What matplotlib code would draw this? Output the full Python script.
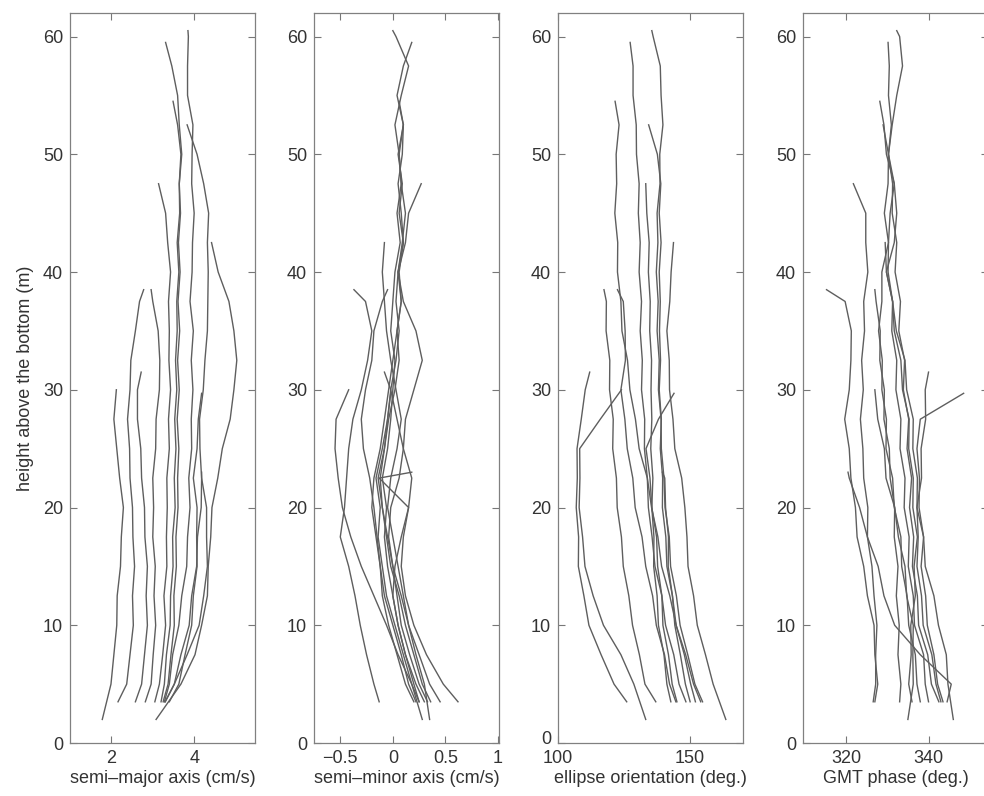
import matplotlib
matplotlib.use("Agg")
import matplotlib.pyplot as plt
import matplotlib.transforms as mtransforms

plt.rcParams['font.family'] = ['Liberation Sans', 'DejaVu Sans']

# sample heights (m) shared by all profiles; each profile also has its own bottom / top bin
GRID = [5, 7.5, 10, 12.5, 15, 17.5, 20, 22.5, 25, 27.5, 30, 32.5, 35, 37.5, 40,
        42.5, 45, 47.5, 50, 52.5, 55, 57.5, 60]
BOTTOM = [3.5, 3.5, 3.5, 3.5, 3.5, 2.0, 3.5, 3.5, 3.5, 2.0, 3.5, 3.5]
TOP = [60.5, 59.5, 54.5, 52.5, 47.5, 42.5, 38.5, 38.5, 31.5, 30.0, 29.7, 23.0]

# semi-major axis (cm/s), one list per profile, bottom -> top
semi_major = [
    [3.28, 3.4, 3.48, 3.63, 3.7, 3.82, 3.84, 3.9, 3.87, 3.94, 3.93, 3.97, 3.93, 3.98, 3.9, 3.95, 3.96, 4.0, 3.94, 3.95, 3.97, 3.84, 3.84, 3.86, 3.85],
    [3.2, 3.28, 3.33, 3.42, 3.43, 3.49, 3.48, 3.54, 3.52, 3.56, 3.53, 3.58, 3.55, 3.59, 3.58, 3.63, 3.59, 3.65, 3.64, 3.7, 3.64, 3.6, 3.46, 3.31],
    [3.25, 3.37, 3.44, 3.52, 3.51, 3.57, 3.56, 3.61, 3.6, 3.63, 3.59, 3.64, 3.6, 3.65, 3.61, 3.66, 3.62, 3.67, 3.64, 3.68, 3.6, 3.49],
    [3.3, 3.52, 3.83, 4.12, 4.23, 4.32, 4.3, 4.3, 4.18, 4.14, 4.13, 4.22, 4.26, 4.32, 4.33, 4.34, 4.32, 4.35, 4.23, 4.07, 3.83],
    [3.05, 3.16, 3.24, 3.31, 3.27, 3.34, 3.33, 3.35, 3.34, 3.4, 3.38, 3.43, 3.39, 3.4, 3.38, 3.43, 3.36, 3.31, 3.14],
    [3.08, 3.68, 4.02, 4.18, 4.32, 4.34, 4.4, 4.43, 4.57, 4.68, 4.87, 4.96, 5.03, 4.96, 4.84, 4.58, 4.42],
    [2.16, 2.37, 2.45, 2.53, 2.51, 2.56, 2.52, 2.51, 2.45, 2.44, 2.39, 2.45, 2.47, 2.58, 2.68, 2.78],
    [2.82, 2.96, 3.01, 3.07, 3.03, 3.06, 3.0, 3.02, 3.0, 3.07, 3.08, 3.16, 3.17, 3.13, 3.0, 2.96],
    [2.58, 2.73, 2.8, 2.87, 2.84, 2.87, 2.81, 2.8, 2.73, 2.71, 2.63, 2.63, 2.72],
    [1.78, 1.99, 2.06, 2.13, 2.14, 2.22, 2.24, 2.29, 2.2, 2.13, 2.06, 2.12],
    [3.4, 3.63, 3.78, 3.94, 3.98, 4.07, 4.06, 4.07, 3.98, 4.07, 4.1, 4.18],
    [3.3, 3.52, 3.68, 3.88, 3.94, 4.06, 4.08, 4.17, 4.18, 4.18],
]

# semi-minor axis (cm/s)
semi_minor = [
    [0.3, 0.22, 0.12, 0.05, 0.0, -0.05, -0.08, -0.06, -0.1, -0.05, -0.02, 0.0, 0.02, -0.02, 0.0, 0.02, 0.07, 0.04, 0.08, 0.06, 0.02, 0.08, 0.15, 0.03, 0.0],
    [0.36, 0.28, 0.2, 0.12, 0.06, -0.02, -0.06, -0.1, -0.14, -0.08, -0.04, 0.02, 0.06, 0.04, 0.08, 0.06, 0.1, 0.06, 0.09, 0.05, 0.1, 0.04, 0.1, 0.18],
    [0.25, 0.18, 0.1, 0.02, -0.06, -0.1, -0.14, -0.12, -0.16, -0.1, -0.05, -0.02, 0.03, 0.06, 0.03, 0.05, 0.1, 0.08, 0.05, 0.09, 0.1, 0.06],
    [0.2, 0.12, 0.04, -0.04, -0.1, -0.12, -0.16, -0.2, -0.18, -0.12, -0.08, -0.04, 0.0, 0.04, 0.08, 0.05, 0.09, 0.12, 0.08, 0.06, 0.1],
    [0.33, 0.25, 0.16, 0.08, 0.04, 0.0, -0.04, -0.02, 0.06, 0.1, 0.12, 0.2, 0.28, 0.22, 0.1, 0.05, 0.12, 0.15, 0.27],
    [0.35, 0.3, 0.22, 0.15, 0.1, 0.05, 0.0, -0.05, -0.02, 0.04, 0.08, 0.03, -0.02, -0.06, -0.08, -0.1, -0.08],
    [-0.13, -0.18, -0.25, -0.31, -0.36, -0.42, -0.5, -0.46, -0.44, -0.42, -0.38, -0.3, -0.24, -0.2, -0.26, -0.37],
    [0.22, 0.15, 0.08, 0.0, -0.08, -0.12, -0.15, -0.18, -0.22, -0.28, -0.3, -0.26, -0.2, -0.18, -0.1, -0.05],
    [0.62, 0.48, 0.32, 0.2, 0.12, 0.08, 0.1, 0.15, 0.18, 0.1, 0.04, -0.02, -0.08],
    [0.28, 0.18, 0.05, -0.06, -0.18, -0.3, -0.4, -0.48, -0.52, -0.55, -0.54, -0.42],
    [0.45, 0.35, 0.25, 0.15, 0.08, 0.0, -0.05, -0.1, -0.12, -0.08, -0.05, -0.02],
    [0.25, 0.2, 0.12, 0.05, 0.0, 0.02, 0.08, 0.15, -0.13, 0.18],
]

# ellipse orientation (deg.)
orientation = [
    [154.7, 151.8, 149.1, 146.2, 144.8, 142.6, 142.1, 140.5, 140.1, 139.1, 139.0, 138.0, 138.3, 137.5, 137.9, 137.2, 137.8, 137.5, 138.6, 138.5, 139.7, 139.0, 138.7, 136.0, 135.5],
    [148.4, 145.8, 143.8, 140.7, 139.3, 136.7, 135.6, 134.2, 133.8, 132.7, 132.8, 131.6, 131.9, 131.1, 131.6, 130.7, 131.1, 130.4, 130.7, 129.7, 129.6, 128.4, 128.4, 127.3],
    [154.0, 151.3, 148.3, 144.7, 142.3, 139.2, 137.8, 135.4, 133.8, 130.7, 129.3, 127.2, 126.3, 124.2, 123.8, 122.5, 122.6, 121.5, 122.2, 122.0, 123.1, 121.6],
    [152.0, 150.2, 147.8, 144.7, 143.3, 141.2, 140.8, 139.5, 139.6, 138.7, 139.1, 138.3, 138.8, 138.4, 138.7, 138.3, 139.0, 138.3, 138.9, 137.6, 134.3],
    [142.7, 141.2, 140.1, 138.0, 137.5, 136.2, 136.3, 135.5, 135.9, 135.1, 135.5, 135.2, 135.4, 134.7, 134.9, 134.2, 134.5, 133.6, 133.2],
    [163.5, 158.7, 155.8, 152.7, 151.3, 149.2, 148.8, 148.0, 146.8, 144.2, 143.5, 142.2, 142.1, 141.2, 142.3, 142.8, 143.7],
    [137.0, 132.9, 130.8, 128.2, 126.8, 124.7, 124.0, 122.4, 122.1, 120.7, 120.9, 119.5, 119.6, 118.2, 118.3, 117.4],
    [144.6, 142.2, 140.3, 137.2, 135.8, 133.2, 131.8, 129.2, 128.3, 126.2, 125.3, 123.8, 125.5, 125.4, 124.7, 122.5],
    [126.0, 121.2, 116.3, 111.7, 109.8, 107.7, 107.8, 106.9, 107.3, 107.2, 108.8, 110.3, 112.0],
    [133.2, 128.7, 123.8, 117.2, 113.3, 110.2, 109.3, 108.0, 108.3, 108.2, 116.0, 124.0],
    [145.0, 143.2, 141.8, 139.7, 139.3, 137.7, 137.3, 135.5, 134.8, 133.3, 138.0, 143.9],
    [150.0, 148.2, 146.3, 144.2, 143.3, 141.7, 141.8, 140.7, 140.4, 139.5],
]

# GMT phase (deg.)
phase = [
    [342.5, 340.7, 339.8, 337.6, 337.3, 336.1, 336.4, 335.4, 335.9, 334.8, 335.2, 333.9, 334.2, 332.8, 333.2, 331.9, 332.3, 331.2, 331.3, 330.3, 331.2, 332.3, 333.7, 333.0, 332.3],
    [340.0, 339.2, 338.8, 336.6, 336.3, 335.1, 335.3, 334.1, 334.3, 333.1, 333.3, 332.1, 332.3, 331.1, 331.3, 330.2, 330.3, 329.3, 330.2, 330.3, 331.0, 330.3, 330.5, 330.2],
    [338.0, 337.2, 336.8, 335.2, 334.8, 333.5, 333.3, 331.7, 331.3, 329.7, 329.8, 328.7, 328.8, 327.9, 328.7, 328.7, 330.3, 330.7, 331.7, 329.8, 329.2, 328.2],
    [336.0, 335.2, 335.8, 335.7, 336.8, 336.5, 337.3, 336.2, 336.3, 335.2, 335.3, 333.7, 333.3, 331.7, 331.3, 329.8, 331.7, 332.3, 331.7, 330.3, 329.0],
    [326.6, 327.2, 327.2, 327.5, 326.8, 326.3, 325.2, 325.3, 324.3, 324.1, 323.5, 324.2, 323.8, 324.5, 324.3, 325.3, 324.8, 324.8, 321.8],
    [346.0, 344.7, 344.3, 342.4, 341.3, 339.2, 338.8, 337.2, 337.3, 336.2, 336.3, 334.7, 334.3, 332.2, 331.3, 329.8, 329.5],
    [327.0, 327.7, 327.0, 326.8, 325.2, 324.3, 322.7, 322.3, 321.2, 320.8, 319.7, 320.8, 321.2, 321.3, 319.8, 315.3],
    [333.0, 333.3, 332.6, 332.9, 332.2, 332.6, 331.7, 331.8, 330.7, 330.5, 329.2, 329.3, 328.2, 328.3, 327.3, 327.0],
    [343.0, 341.8, 340.8, 338.7, 338.3, 337.2, 337.5, 337.2, 338.3, 338.2, 339.3, 339.2, 340.0],
    [335.0, 336.3, 336.2, 336.3, 334.7, 334.3, 332.7, 331.8, 329.7, 329.3, 327.7, 327.0],
    [343.5, 342.2, 341.3, 339.7, 339.3, 338.2, 338.8, 337.7, 337.8, 337.2, 338.0, 348.5],
    [344.5, 345.5, 338.0, 331.8, 329.2, 327.8, 325.2, 323.3, 320.8, 320.5],
]

panels = [
    (semi_major, 'semi\u2013major axis (cm/s)', (1.0, 5.47), [2, 4], ['2', '4']),
    (semi_minor, 'semi\u2013minor axis (cm/s)', (-0.75, 1.01), [-0.5, 0, 0.5, 1], ['\u22120.5', '0', '0.5', '1']),
    (orientation, 'ellipse orientation (deg.)', (100, 170), [100, 150], ['100', '150']),
    (phase, 'GMT phase (deg.)', (309.6, 354.4), [320, 340], ['320', '340']),
]


def heights(k):
    return [BOTTOM[k]] + [g for g in GRID if BOTTOM[k] < g < TOP[k]] + [TOP[k]]


W, H = 984, 796
fig = plt.figure(figsize=(W / 100, H / 100), dpi=100)
lefts = [70, 314, 558, 803]

for i, (data, label, xlim, ticks, ticklabels) in enumerate(panels):
    ax = fig.add_axes([lefts[i] / W, 53 / H, 185 / W, 730 / H])
    for k, xs in enumerate(data):
        z = heights(k)
        n = min(len(z), len(xs))
        ax.plot(xs[:n], z[:n], color='#5e5e5e', lw=1.0)
    ax.set_xlim(*xlim)
    ax.set_ylim(0, 62)
    ax.set_xticks(ticks)
    ax.set_xticklabels(ticklabels)
    ax.set_yticks([0, 10, 20, 30, 40, 50, 60])
    ax.tick_params(direction='in', top=True, right=True, length=5, width=0.8,
                   color='#777777', labelcolor='#333333', labelsize=13, pad=5)
    for s in ax.spines.values():
        s.set_color('#808080')
        s.set_linewidth(0.9)
    ax.set_xlabel(label, fontsize=13, color='#333333', labelpad=2)
    if i == 0:
        ax.set_ylabel('height above the bottom (m)', fontsize=13, color='#333333', labelpad=6)
    if i == 2:
        # the "0" sits just above the "100" label, nudge it up a little
        zero = ax.yaxis.get_major_ticks()[0].label1
        zero.set_transform(zero.get_transform() +
                           mtransforms.ScaledTranslation(0, 4 / 72, fig.dpi_scale_trans))

fig.savefig('out.png', dpi=100)
